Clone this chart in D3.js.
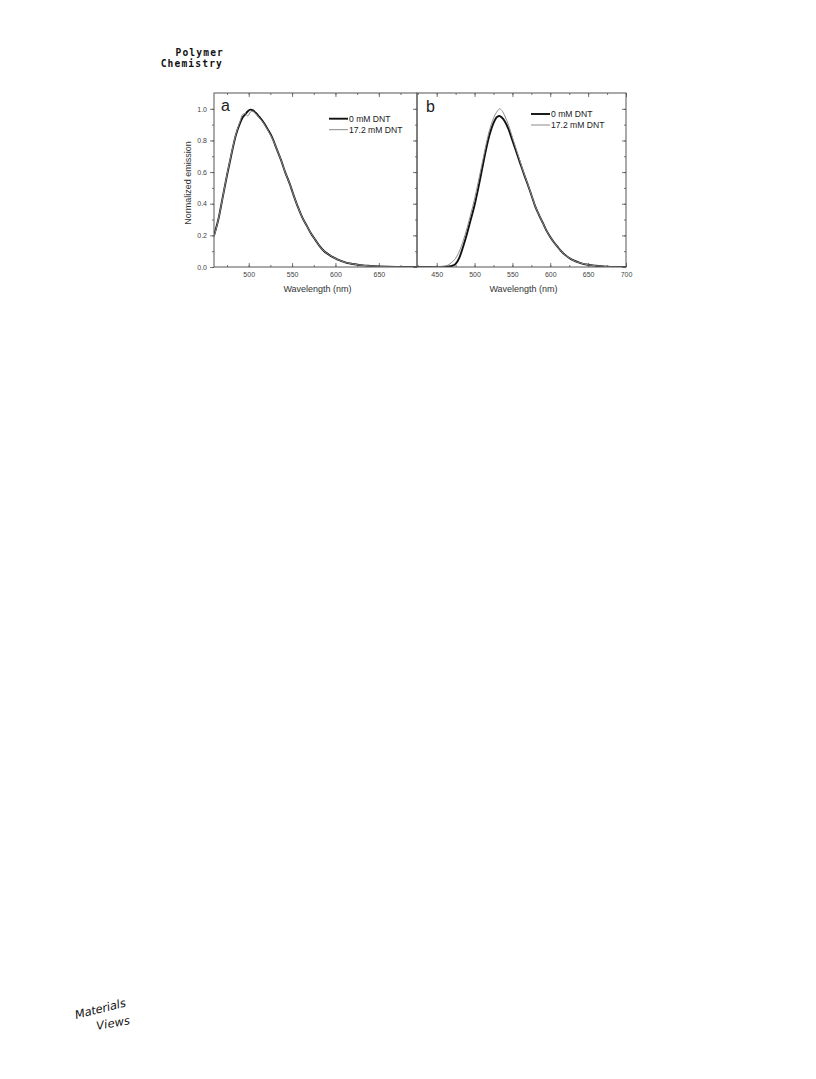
<!DOCTYPE html>
<html>
<head>
<meta charset="utf-8">
<script src="https://cdn.jsdelivr.net/npm/d3@7"></script>
<style>
  html, body { margin: 0; padding: 0; background: #fff; }
  svg { display: block; }
</style>
</head>
<body>
<script>
// ---------------- DATA ----------------
const seriesNames = ["0 mM DNT", "17.2 mM DNT"];

// Panel a
const wavelengthsA = [460,465,470,475,480,485,490,493,496,499,502,505,508,512,517,522,527,532,537,542,547,552,557,562,567,572,577,582,587,592,597,602,607,612,617,622,627,632,640,650,660,670,680,694];
const a0mM  = [0.20,0.30,0.44,0.58,0.71,0.83,0.91,0.945,0.965,0.985,0.995,0.99,0.975,0.95,0.915,0.87,0.82,0.75,0.68,0.60,0.53,0.45,0.375,0.31,0.26,0.21,0.17,0.13,0.10,0.08,0.062,0.048,0.037,0.028,0.022,0.017,0.013,0.010,0.007,0.004,0.002,0.001,0.0,0.0];
const a17mM = [0.19,0.30,0.44,0.585,0.715,0.835,0.92,0.965,0.97,0.955,0.98,0.985,0.97,0.945,0.91,0.865,0.815,0.75,0.68,0.60,0.53,0.45,0.375,0.31,0.26,0.21,0.17,0.13,0.10,0.08,0.062,0.048,0.037,0.028,0.022,0.017,0.013,0.010,0.007,0.004,0.002,0.001,0.0,0.0];

// Panel b
const wavelengthsB = [424,440,450,460,465,470,475,480,485,490,495,500,505,510,515,520,525,530,533,536,540,545,550,555,560,565,570,575,580,585,590,595,600,605,610,615,620,625,630,640,650,660,670,680,690,700];
const b0mM  = [0,0,0,0.001,0.003,0.007,0.02,0.06,0.13,0.21,0.30,0.39,0.50,0.62,0.74,0.84,0.91,0.95,0.955,0.945,0.92,0.87,0.80,0.73,0.66,0.59,0.525,0.455,0.385,0.33,0.28,0.23,0.19,0.155,0.125,0.097,0.075,0.057,0.043,0.025,0.014,0.008,0.004,0.001,0,0];
const b17mM = [0,0,0.002,0.006,0.012,0.03,0.055,0.10,0.165,0.245,0.335,0.43,0.54,0.655,0.77,0.87,0.94,0.985,1.0,0.99,0.955,0.895,0.82,0.745,0.67,0.595,0.528,0.457,0.386,0.33,0.28,0.23,0.19,0.155,0.125,0.097,0.075,0.057,0.043,0.025,0.014,0.008,0.004,0.001,0,0];

// Axes
const xDomainA = [460, 694];
const xDomainB = [424, 700];
const yDomain = [0, 1.1];
const xTicksA = [500, 550, 600, 650];
const xMinorA = [475, 500, 525, 550, 575, 600, 625, 650, 675];
const xTicksB = [450, 500, 550, 600, 650, 700];
const xMinorB = [425, 450, 475, 500, 525, 550, 575, 600, 625, 650, 675, 700];
const yTicks = [0, 0.2, 0.4, 0.6, 0.8, 1.0];
const yMinor = [0, 0.1, 0.2, 0.3, 0.4, 0.5, 0.6, 0.7, 0.8, 0.9, 1.0];
const yTitle = "Normalized emission";
const xTitle = "Wavelength (nm)";
const panelLabels = ["a", "b"];

// ---------------- DRAW ----------------
const W = 816, H = 1079;
const svg = d3.select("body").append("svg").attr("width", W).attr("height", H);
svg.append("rect").attr("width", W).attr("height", H).attr("fill", "#fff");

// header
const hdr = svg.append("g").attr("font-family", "'DejaVu Sans Mono', monospace").attr("font-weight", "bold")
  .attr("font-size", 9.6).attr("letter-spacing", 1.15).attr("text-anchor", "end").attr("fill", "#111");
hdr.append("text").attr("x", 224).attr("y", 55.5).text("Polymer");
hdr.append("text").attr("x", 223).attr("y", 67).text("Chemistry");

// logo
const logo = svg.append("g").attr("font-family", "'DejaVu Sans', sans-serif").attr("font-style", "italic")
  .attr("font-size", 11.5).attr("fill", "#111");
logo.append("text").attr("transform", "translate(76,1019) rotate(-14)").attr("textLength", 52).text("Materials");
logo.append("text").attr("transform", "translate(97,1030) rotate(-10)").attr("textLength", 34).text("Views");

const plotTop = 93, plotBottom = 267;
const y = d3.scaleLinear().domain(yDomain).range([plotBottom, plotTop]);

const panels = [
  { x0: 214, x1: 417, domain: xDomainA, ticks: xTicksA, minor: xMinorA, wl: wavelengthsA, s: [a0mM, a17mM],
    leg: { x: 329, y: 118.7 }, lab: { x: 221, y: 111 }, leftLabels: true },
  { x0: 417, x1: 626, domain: xDomainB, ticks: xTicksB, minor: xMinorB, wl: wavelengthsB, s: [b0mM, b17mM],
    leg: { x: 531, y: 114 }, lab: { x: 426, y: 112 }, leftLabels: false }
];

const styles = [
  { stroke: "#111", width: 1.9 },
  { stroke: "#8a8a8a", width: 1.0 }
];

panels.forEach((p, pi) => {
  const x = d3.scaleLinear().domain(p.domain).range([p.x0, p.x1]);
  const g = svg.append("g");
  const clipId = "clip" + pi;
  g.append("clipPath").attr("id", clipId).append("rect")
    .attr("x", p.x0).attr("y", plotTop).attr("width", p.x1 - p.x0).attr("height", plotBottom - plotTop);

  // curves
  const line = d3.line().x(d => x(d[0])).y(d => y(d[1])).curve(d3.curveMonotoneX);
  p.s.forEach((vals, si) => {
    const pts = p.wl.map((w, i) => [w, vals[i]]);
    g.append("path").datum(pts).attr("d", line).attr("fill", "none")
      .attr("stroke", styles[si].stroke).attr("stroke-width", styles[si].width)
      .attr("stroke-linejoin", "round").attr("clip-path", `url(#${clipId})`);
  });

  const tickStyle = sel => {
    sel.select(".domain").remove();
    sel.selectAll(".tick line").attr("stroke", "#555").attr("stroke-width", 0.8);
    sel.selectAll(".tick text").attr("fill", "#444").attr("font-family", "'Liberation Sans', Arial, sans-serif").attr("font-size", 7);
  };

  // bottom axis (inward ticks)
  g.append("g").attr("transform", `translate(0,${plotBottom})`)
    .call(d3.axisBottom(x).tickValues(p.ticks).tickSize(-4).tickPadding(5.5).tickFormat(d3.format("d")))
    .call(tickStyle);
  g.append("g").attr("transform", `translate(0,${plotBottom})`)
    .call(d3.axisBottom(x).tickValues(p.minor).tickSize(-2).tickFormat(""))
    .call(tickStyle);
  // top axis (inward ticks)
  g.append("g").attr("transform", `translate(0,${plotTop})`)
    .call(d3.axisTop(x).tickValues(p.ticks).tickSize(-4).tickFormat(""))
    .call(tickStyle);
  g.append("g").attr("transform", `translate(0,${plotTop})`)
    .call(d3.axisTop(x).tickValues(p.minor).tickSize(-2).tickFormat(""))
    .call(tickStyle);
  // right axis (inward)
  g.append("g").attr("transform", `translate(${p.x1},0)`)
    .call(d3.axisRight(y).tickValues(yTicks).tickSize(-4).tickFormat(""))
    .call(tickStyle);
  g.append("g").attr("transform", `translate(${p.x1},0)`)
    .call(d3.axisRight(y).tickValues(yMinor).tickSize(-2).tickFormat(""))
    .call(tickStyle);
  // left axis
  if (p.leftLabels) {
    g.append("g").attr("transform", `translate(${p.x0},0)`)
      .call(d3.axisLeft(y).tickValues(yTicks).tickSize(4).tickPadding(3).tickFormat(d3.format(".1f")))
      .call(tickStyle);
    g.append("g").attr("transform", `translate(${p.x0},0)`)
      .call(d3.axisLeft(y).tickValues(yMinor).tickSize(2).tickFormat(""))
      .call(tickStyle);
  }

  // frame
  g.append("rect").attr("x", p.x0).attr("y", plotTop).attr("width", p.x1 - p.x0).attr("height", plotBottom - plotTop)
    .attr("fill", "none").attr("stroke", "#555").attr("stroke-width", 1);

  // panel label
  g.append("text").attr("x", p.lab.x).attr("y", p.lab.y).attr("font-family", "'Liberation Sans', Arial, sans-serif")
    .attr("font-size", 16).attr("fill", "#222").text(panelLabels[pi]);

  // legend
  const lg = g.append("g");
  seriesNames.forEach((name, si) => {
    const ly = p.leg.y + si * 11;
    lg.append("line").attr("x1", p.leg.x).attr("x2", p.leg.x + 19).attr("y1", ly).attr("y2", ly)
      .attr("stroke", styles[si].stroke).attr("stroke-width", styles[si].width);
    lg.append("text").attr("x", p.leg.x + 20).attr("y", ly + 3)
      .attr("font-family", "'Liberation Sans', Arial, sans-serif").attr("font-size", 8.6).attr("fill", "#222").text(name);
  });

  // x title
  g.append("text").attr("x", (p.x0 + p.x1) / 2 + 2).attr("y", 291.5).attr("text-anchor", "middle")
    .attr("font-family", "'Liberation Sans', Arial, sans-serif").attr("font-size", 9).attr("fill", "#333").text(xTitle);
});

// y title
svg.append("text").attr("transform", "translate(191,183) rotate(-90)").attr("text-anchor", "middle")
  .attr("font-family", "'Liberation Sans', Arial, sans-serif").attr("font-size", 9).attr("fill", "#333").text(yTitle);
</script>
</body>
</html>
